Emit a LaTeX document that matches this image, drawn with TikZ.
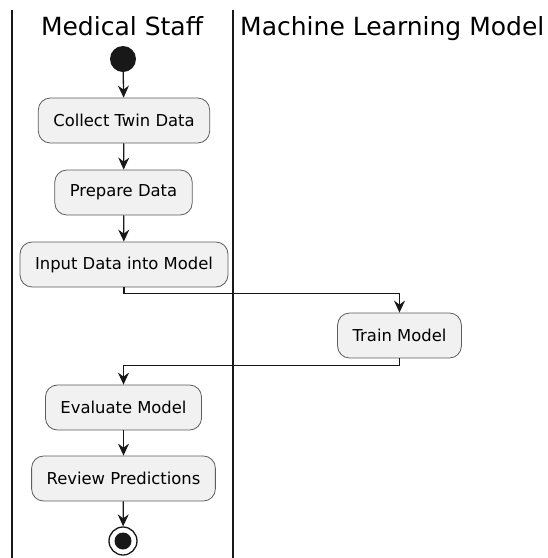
\documentclass[tikz,border=0pt]{standalone}
\usepackage{fontspec}
\setmainfont{DejaVu Sans}
\usetikzlibrary{arrows.meta}
\definecolor{actfill}{HTML}{F1F1F1}
\definecolor{actline}{HTML}{181818}
\begin{document}
\begin{tikzpicture}[x=1pt,y=-1pt,>={Stealth[length=12pt,width=11pt,inset=4pt]},
  action/.style={draw=actline!70,line width=0.8pt,fill=actfill,rounded corners=12pt,
    inner xsep=15pt,minimum height=45pt,font=\fontsize{16.4}{19}\selectfont},
  flow/.style={->,line width=1.3pt,draw=actline},
  lane/.style={line width=1.8pt,draw=actline},
  title/.style={font=\fontsize{25}{30}\selectfont}]
\clip (0,0) rectangle (548,558);
\fill[white] (0,0) rectangle (548,558);
\draw[lane] (12,10) -- (12,558);
\draw[lane] (233,10) -- (233,558);
\node[title,anchor=base] (staff) at (122,35) {Medical Staff};
\node[title,anchor=base west,inner xsep=0pt] (mlm) at (240,35) {Machine Learning Model};
\node[circle,fill=actline,minimum size=26pt,inner sep=0pt] (start) at (123,59) {};
\node[action] (collect) at (124,120.5) {Collect Twin Data};
\node[action] (prepare) at (123.5,192.5) {Prepare Data};
\node[action] (input) at (124,264.5) {Input Data into Model};
\node[action] (train) at (399.5,335.5) {Train Model};
\node[action] (evaluate) at (123.5,407.5) {Evaluate Model};
\node[action] (review) at (123.5,478.5) {Review Predictions};
\node[circle,draw=actline,line width=1.3pt,minimum size=28pt,inner sep=0pt] (stop) at (123,541) {};
\fill[actline] (stop.center) circle (8.5pt);
\draw[flow] (start) -- (collect);
\draw[flow] (collect) -- (prepare);
\draw[flow] (prepare) -- (input);
\draw[flow] (input.south) -- ++(0,6) -| (train.north);
\draw[flow] (train.south) -- ++(0,7) -| (evaluate.north);
\draw[flow] (evaluate) -- (review);
\draw[flow] (review) -- (stop);
\end{tikzpicture}
\end{document}
